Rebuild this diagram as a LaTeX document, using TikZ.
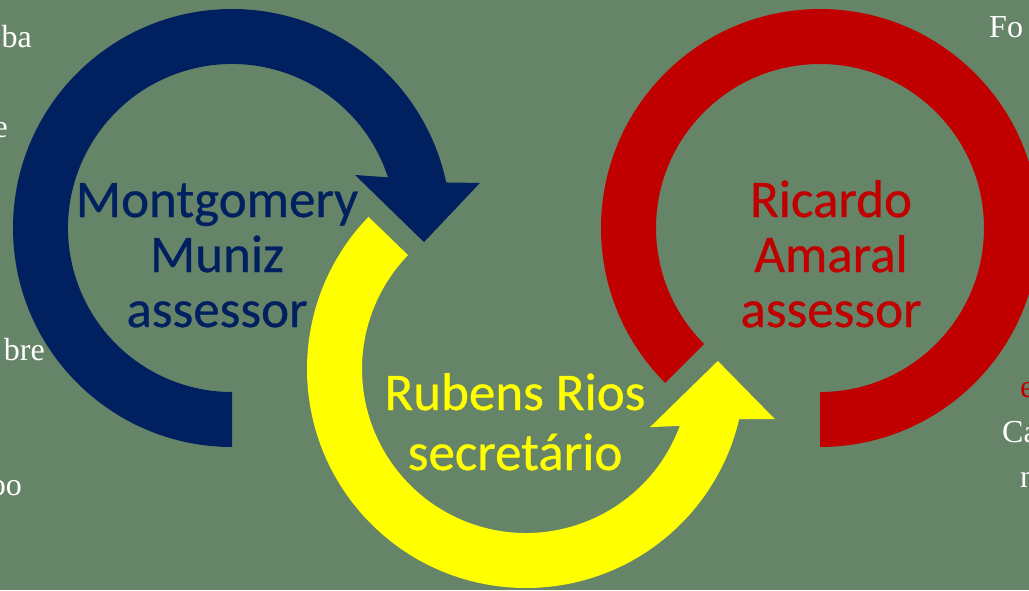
\documentclass[tikz,border=0pt]{standalone}
\usepackage{fontspec}
\newfontfamily\labelfont[FakeBold=0.6]{Carlito}
\newfontfamily\sidefont{Liberation Serif}
\definecolor{bggreen}{RGB}{102,133,104}
\definecolor{navy}{RGB}{0,32,96}
\definecolor{darkred}{RGB}{192,0,0}
\definecolor{brightyellow}{RGB}{255,255,0}
\tikzset{
  person/.style={font=\labelfont\fontsize{53}{55}\selectfont, anchor=base, inner sep=0pt},
  sidetext/.style={font=\sidefont\fontsize{32}{36}\selectfont, text=white, inner sep=0pt},
}
\begin{document}
\begin{tikzpicture}[x=1pt,y=1pt]
   \useasboundingbox (0,0) rectangle (1029,-590);
   \fill[bggreen] (0,0) rectangle (1029,-590);
   \clip (0,0) rectangle (1029,-590);

   \begin{scope}[shift={(232,-228)}]
   \fill[navy] (270:219) arc[start angle=270, end angle=12, radius=219]
   -- (10.3:252) -- (-4.2:192.5) -- (23.3:134) -- (18:164)
   arc[start angle=18, end angle=270, radius=164] -- cycle;
   \end{scope}

   \begin{scope}[shift={(526,-369)}]
   \fill[brightyellow] (136:219) arc[start angle=136, end angle=346.8, radius=219]
   -- (348.6:254) -- (2.4:192) -- (334.9:137) -- (339.7:164)
   arc[start angle=339.7, end angle=136, radius=164] -- cycle;
   \end{scope}

   \begin{scope}[shift={(820,-228)}]
   \fill[darkred] (225:219) arc[start angle=225, end angle=-90, radius=219]
   -- (-90:164) arc[start angle=-90, end angle=225, radius=164] -- cycle;
   \end{scope}

   \node[person, text=navy] (mont1) at (217,-217) {Montgomery};
   \node[person, text=navy] (mont2) at (217,-272) {Muniz};
   \node[person, text=navy] (mont3) at (217,-327) {assessor};

   \node[person, text=brightyellow] (rub1) at (515,-410) {Rubens Rios};
   \node[person, text=brightyellow] (rub2) at (515,-470) {secretário};

   \node[person, text=darkred] (ric1) at (831,-217) {Ricardo};
   \node[person, text=darkred] (ric2) at (831,-272) {Amaral};
   \node[person, text=darkred] (ric3) at (831,-327) {assessor};

   \node[sidetext, anchor=base east] (L1) at (32,-47) {ba};
   \node[sidetext, anchor=base east] (L2) at (8,-137) {e};
   \node[sidetext, anchor=base east] (L3) at (45,-360) {bre};
   \node[sidetext, anchor=base east] (L4) at (22,-495) {oo};

   \node[sidetext, anchor=base west] (R1) at (989,-37) {Fo};
   \node[sidetext, anchor=base west, text=darkred] (R2) at (1020,-397) {e};
   \node[sidetext, anchor=base west] (R3) at (1002,-442) {Ca};
   \node[sidetext, anchor=base west] (R4) at (1020,-487) {n};
\end{tikzpicture}
\end{document}
